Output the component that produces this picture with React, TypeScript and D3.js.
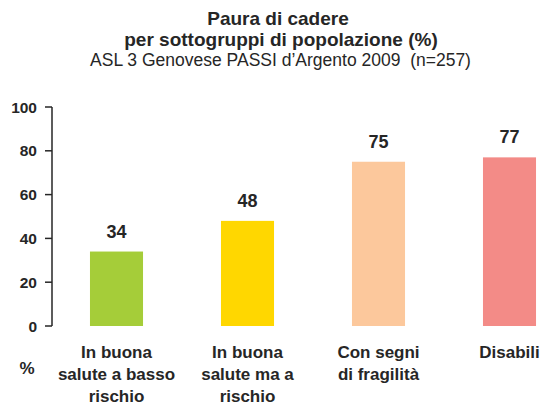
import React from "react";
import * as d3 from "d3";

const categories = [
  ["In buona", "salute a basso", "rischio"],
  ["In buona", "salute ma a", "rischio"],
  ["Con segni", "di fragilità"],
  ["Disabili"],
];
const values = [34, 48, 75, 77];
const colors = ["#a5cd39", "#ffd700", "#fcc89c", "#f38b87"];
const yTicks = [0, 20, 40, 60, 80, 100];

const width = 547;
const height = 406;
const font = "'Liberation Sans', Arial, sans-serif";
const ink = "#262626";

const App = () => {
  const keys = categories.map((c) => c.join(" "));
  const xScale = d3
    .scaleBand()
    .domain(keys)
    .range([51, 575])
    .paddingInner(0.595)
    .paddingOuter(0.2975);
  const yScale = d3.scaleLinear().domain([0, 100]).range([326, 107]);
  const axisX = 52;
  const center = (k: string) => xScale(k)! + xScale.bandwidth() / 2;

  return (
    <svg
      width={width}
      height={height}
      style={{ position: "absolute", left: 0, top: 0, background: "#fff" }}
      fontFamily={font}
    >
      <text x={278} y={25} textAnchor="middle" fontSize={19} fontWeight="bold" fill={ink}>
        Paura di cadere
      </text>
      <text x={281} y={46} textAnchor="middle" fontSize={19} fontWeight="bold" fill={ink}>
        per sottogruppi di popolazione (%)
      </text>
      <text
        x={280.5}
        y={66}
        textAnchor="middle"
        fontSize={17.5}
        fill={ink}
        style={{ whiteSpace: "pre" }}
      >
        ASL 3 Genovese PASSI d’Argento 2009  (n=257)
      </text>

      {values.map((v, i) => (
        <g key={keys[i]}>
          <rect
            x={xScale(keys[i])}
            y={yScale(v)}
            width={xScale.bandwidth()}
            height={yScale(0) - yScale(v)}
            fill={colors[i]}
          />
          <text
            x={center(keys[i])}
            y={yScale(v) - 14}
            textAnchor="middle"
            fontSize={18}
            fontWeight="bold"
            fill={ink}
          >
            {v}
          </text>
          <text textAnchor="middle" fontSize={17} fontWeight="bold" fill={ink}>
            {categories[i].map((line, j) => (
              <tspan key={j} x={center(keys[i])} y={358 + j * 22}>
                {line}
              </tspan>
            ))}
          </text>
        </g>
      ))}

      <line x1={axisX} x2={axisX} y1={yScale(100)} y2={yScale(0)} stroke={ink} strokeWidth={1.5} />
      {yTicks.map((t) => (
        <g key={t}>
          <line x1={axisX - 7} x2={axisX} y1={yScale(t)} y2={yScale(t)} stroke={ink} strokeWidth={1.5} />
          <text
            x={37}
            y={yScale(t) + 5.5}
            textAnchor="end"
            fontSize={15.5}
            fontWeight="bold"
            fill={ink}
          >
            {t}
          </text>
        </g>
      ))}
      <text x={27} y={374} textAnchor="middle" fontSize={17} fontWeight="bold" fill={ink}>
        %
      </text>
    </svg>
  );
};

export default App;
